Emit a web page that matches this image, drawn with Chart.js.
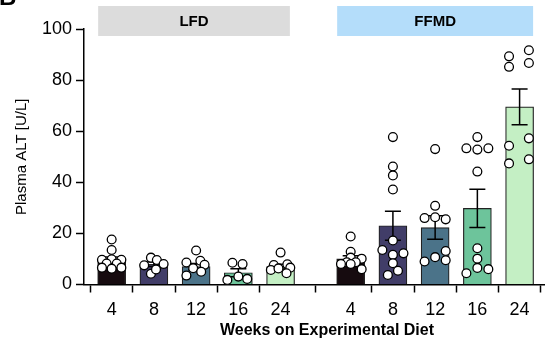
<!DOCTYPE html>
<html>
<head>
<meta charset="utf-8">
<script src="https://cdn.jsdelivr.net/npm/chart.js@4.4.1/dist/chart.umd.min.js"></script>
<style>
  body { margin: 0; background: #fff; }
  #wrap { width: 550px; height: 345px; }
</style>
</head>
<body>
<div id="wrap"><canvas id="myChart" width="550" height="345"></canvas></div>
<script>
// Datos (semanas en dieta, ALT en U/L)
var weeks = ['4', '8', '12', '16', '24'];
var groups = ['LFD', 'FFMD'];

var lfdMean = [9.6, 7.9, 7.0, 4.6, 7.0];
var lfdSem = [1.2, 0.9, 1.2, 1.6, 0.9];
var ffmdMean = [10.0, 23.0, 22.3, 29.8, 69.5];
var ffmdSem = [1.3, 5.7, 4.6, 7.5, 7.0];

// puntos individuales (un array por barra)
var lfdPoints = [
    [17.6, 13.5, 9.7, 9.9, 9.7, 8.2, 8.2, 6.6, 6.2, 6.6],
    [10.5, 9.6, 7.5, 8.0, 4.2, 5.9],
    [13.3, 9.3, 8.6, 7.7, 6.4, 5.0, 3.5],
    [8.5, 8.0, 3.1, 1.8, 2.2],
    [12.5, 7.6, 7.9, 5.7, 6.3, 6.6, 4.4]
];
var ffmdPoints = [
    [18.8, 12.8, 10.5, 10.1, 8.7, 8.7, 8.0, 8.0, 6.0],
    [57.7, 46.2, 42.7, 37.2, 17.2, 13.5, 12.2, 11.6, 8.3, 5.4, 3.7],
    [53.0, 30.8, 26.0, 26.3, 25.5, 13.1, 10.7, 9.5, 9.0],
    [57.7, 53.3, 52.8, 53.3, 44.2, 14.2, 10.1, 6.5, 6.0, 4.4],
    [89.3, 85.2, 91.7, 86.7, 54.3, 47.4, 57.2, 49.0]
];
// desplazamiento horizontal de cada punto (swarm), en fracciones de categoria
var lfdJitter = [
    [0, 0, -0.23, 0, 0.23, -0.12, 0.12, -0.23, 0, 0.23],
    [-0.07, 0.07, -0.23, 0.23, -0.07, 0.05],
    [0, 0.1, -0.23, 0.2, -0.07, 0.12, -0.23],
    [-0.14, 0.1, 0, -0.26, 0.21],
    [0, -0.16, 0.16, -0.23, -0.05, 0.23, 0.14]
];
var ffmdJitter = [
    [0, 0, 0, 0.26, -0.09, 0.12, -0.23, 0, 0.26],
    [0, 0, 0, 0, 0, -0.25, 0.25, 0, 0, 0.12, -0.12],
    [0, 0, -0.25, 0, 0.25, 0.25, 0, 0.25, -0.25],
    [0, -0.26, 0, 0.26, 0, 0, 0, 0, 0.26, -0.26],
    [-0.25, -0.25, 0.22, 0.22, -0.25, -0.25, 0.22, 0.22]
];
var yTicks = [0, 20, 40, 60, 80, 100];

var barColors = ['#160b0f', '#413d68', '#4b7389', '#6dc49b', '#c4efc4'];
var groupGap = 5.66; // posicion del primer bar FFMD
var font = "'Liberation Sans', Arial, sans-serif";

// posiciones en el eje x
var lfdPos = weeks.map(function (w, i) { return i; });
var ffmdPos = weeks.map(function (w, i) { return i + groupGap; });
var allPos = lfdPos.concat(ffmdPos);
var allLabels = weeks.concat(weeks);

var barData = [];
var barSem = [];
lfdMean.forEach(function (m, i) { barData.push({ x: lfdPos[i], y: m }); barSem.push(lfdSem[i]); });
ffmdMean.forEach(function (m, i) { barData.push({ x: ffmdPos[i], y: m }); barSem.push(ffmdSem[i]); });

var dots = [];
lfdPoints.forEach(function (arr, i) {
    arr.forEach(function (v, j) { dots.push({ x: lfdPos[i] + lfdJitter[i][j], y: v }); });
});
ffmdPoints.forEach(function (arr, i) {
    arr.forEach(function (v, j) { dots.push({ x: ffmdPos[i] + ffmdJitter[i][j], y: v }); });
});

// plugin para barras de error, cajas de grupo y textos
var extras = {
    id: 'extras',
    afterDatasetDraw: function (chart, args) {
        if (args.meta.type !== 'bar') return;
        var ctx = chart.ctx;
        var xs = chart.scales.x, ys = chart.scales.y;
        ctx.save();
        ctx.strokeStyle = '#000';
        ctx.lineWidth = 1.5;
        barData.forEach(function (d, i) {
            var px = xs.getPixelForValue(d.x);
            var top = ys.getPixelForValue(d.y + barSem[i]);
            var bot = ys.getPixelForValue(d.y - barSem[i]);
            ctx.beginPath();
            ctx.moveTo(px, top); ctx.lineTo(px, bot);
            ctx.moveTo(px - 8, top); ctx.lineTo(px + 8, top);
            ctx.moveTo(px - 8, bot); ctx.lineTo(px + 8, bot);
            ctx.stroke();
        });
        ctx.restore();
    },
    afterDraw: function (chart) {
        var ctx = chart.ctx;
        var xs = chart.scales.x;
        ctx.save();
        // cajas LFD / FFMD
        var boxes = [
            { label: groups[0], from: lfdPos[0] - 0.32, to: lfdPos[4] + 0.22, color: '#dcdcdc' },
            { label: groups[1], from: ffmdPos[0] - 0.32, to: ffmdPos[4] + 0.32, color: '#b4ddfa' }
        ];
        boxes.forEach(function (b) {
            var x1 = xs.getPixelForValue(b.from), x2 = xs.getPixelForValue(b.to);
            ctx.fillStyle = b.color;
            ctx.fillRect(x1, 6, x2 - x1, 30);
            ctx.fillStyle = '#000';
            ctx.font = 'bold 15px ' + font;
            ctx.textAlign = 'center';
            ctx.textBaseline = 'middle';
            ctx.fillText(b.label, (x1 + x2) / 2, 21.5);
        });
        // titulo eje x
        ctx.font = 'bold 16px ' + font;
        ctx.textAlign = 'center';
        ctx.textBaseline = 'middle';
        ctx.fillText('Weeks on Experimental Diet', 327, 331);
        // letra del panel (cortada arriba)
        ctx.font = 'bold 24px ' + font;
        ctx.textAlign = 'left';
        ctx.textBaseline = 'alphabetic';
        ctx.fillText('B', -1, 5);
        ctx.restore();
    }
};

var ctx = document.getElementById('myChart').getContext('2d');
var myChart = new Chart(ctx, {
    type: 'bar',
    data: {
        datasets: [{
            type: 'bar',
            data: barData,
            backgroundColor: barColors.concat(barColors),
            borderColor: '#222',
            borderWidth: 1.2,
            barThickness: 28,
            order: 2
        }, {
            type: 'scatter',
            data: dots,
            backgroundColor: '#fff',
            borderColor: '#000',
            borderWidth: 1.3,
            pointRadius: 4.4,
            order: 1
        }]
    },
    options: {
        responsive: false,
        animation: false,
        devicePixelRatio: 1,
        layout: { padding: { top: 29, right: 0, left: 0, bottom: 0 } },
        plugins: { legend: { display: false }, tooltip: { enabled: false } },
        scales: {
            x: {
                type: 'linear',
                min: -0.655,
                max: 10.245,
                offset: false,
                afterBuildTicks: function (scale) {
                    scale.ticks = allPos.map(function (p) { return { value: p }; });
                },
                afterFit: function (scale) { scale.height = 60.5; },
                ticks: {
                    autoSkip: false,
                    maxRotation: 0,
                    color: '#000',
                    padding: 7,
                    font: { family: font, size: 18 },
                    callback: function (value) {
                        var i = allPos.indexOf(value);
                        return i >= 0 ? allLabels[i] : '';
                    }
                },
                grid: { drawOnChartArea: false, tickLength: 8, tickColor: '#000', tickWidth: 1.5 },
                border: { color: '#000', width: 1.5 }
            },
            y: {
                min: 0,
                max: 100,
                afterBuildTicks: function (scale) {
                    scale.ticks = yTicks.map(function (v) { return { value: v }; });
                },
                afterFit: function (scale) { scale.width = 84; },
                ticks: {
                    color: '#000',
                    padding: 4,
                    font: { family: font, size: 18 }
                },
                title: {
                    display: true,
                    text: 'Plasma ALT [U/L]',
                    color: '#000',
                    font: { family: font, size: 15 },
                    padding: { top: 13, bottom: 4 }
                },
                grid: { drawOnChartArea: false, tickLength: 8, tickColor: '#000', tickWidth: 1.5 },
                border: { color: '#000', width: 1.5 }
            }
        }
    },
    plugins: [extras]
});
</script>
</body>
</html>
